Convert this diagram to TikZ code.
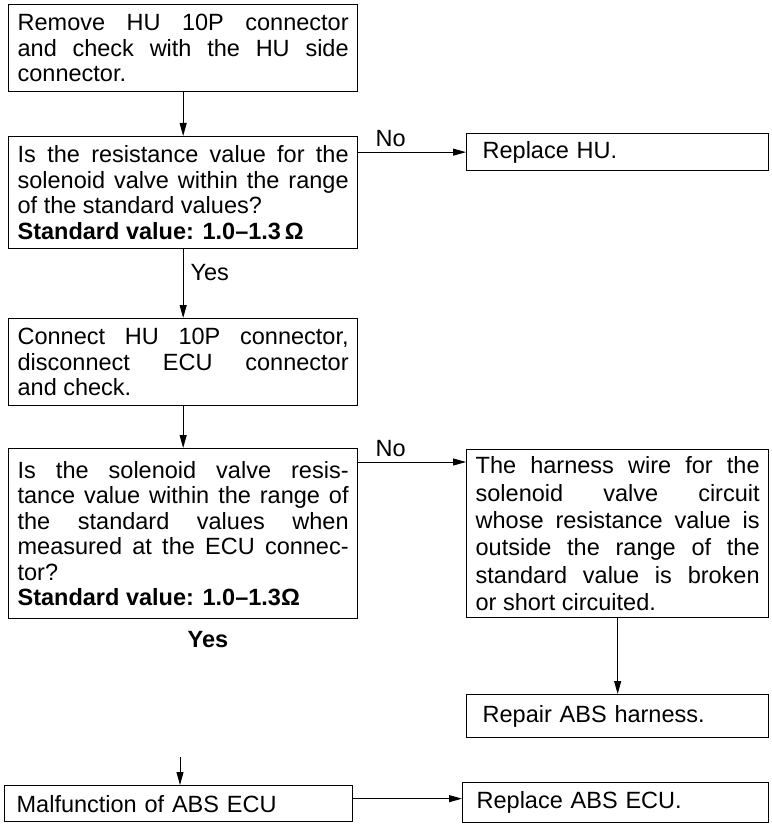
\documentclass[tikz,border=0pt]{standalone}
\usepackage{fontspec}
\setmainfont{Liberation Sans}
\usetikzlibrary{arrows.meta}

\newcommand{\chartfont}{\fontsize{23.5}{25.5}\selectfont}

\tikzset{
    box/.style={draw, line width=1.3pt, anchor=north west, inner xsep=9pt,
                inner ysep=0pt, align=justify, font=\chartfont},
    onebox/.style={box, align=left},
    arr/.style={line width=0.9pt, -{Triangle[length=13pt,width=7pt]}},
    lbl/.style={font=\chartfont, inner sep=2pt}
}

\begin{document}
\begin{tikzpicture}[x=1pt, y=-1pt]

    \useasboundingbox (0,0) rectangle (771,826);

    \node[box, text width=331, minimum height=87] (remove) at (8,4)
        {Remove HU 10P connector\linebreak and check with the HU side\linebreak connector.};

    \node[box, text width=331, minimum height=112] (q1) at (8,136)
        {Is the resistance value for the\linebreak solenoid valve within the range\linebreak
         of the standard values?\\ \textbf{Standard value: 1.0–1.3\,Ω}};

    \node[onebox, inner xsep=16pt, text width=270, minimum height=37] (hu) at (466,133)
        {Replace HU.};

    \node[box, text width=331, minimum height=87] (connect) at (8,318)
        {Connect HU 10P connector,\linebreak disconnect ECU connector\linebreak and check.};

    \node[box, text width=331, minimum height=170] (q2) at (8,448)
        {Is the solenoid valve resis-\linebreak tance value within the range of\linebreak
         the standard values when\linebreak measured at the ECU connec-\linebreak
         tor?\\ \textbf{Standard value: 1.0–1.3Ω}};

    \node[box, text width=284, minimum height=168, font=\fontsize{23.5}{27.3}\selectfont] (harness) at (466,449)
        {The harness wire for the\linebreak solenoid valve circuit\linebreak
         whose resistance value is\linebreak outside the range of the\linebreak
         standard value is broken\linebreak or short circuited.};

    \node[onebox, inner xsep=16pt, text width=270, minimum height=43] (repair) at (466,694)
        {Repair ABS harness.};

    \node[onebox, inner xsep=12pt, text width=324, minimum height=36] (mal) at (4,785)
        {Malfunction of ABS ECU};

    \node[onebox, inner xsep=14pt, text width=278, minimum height=40] (ecu) at (462,782)
        {Replace ABS ECU.};

    \node[lbl, font=\chartfont\bfseries] (yes2) at (208,640) {Yes};
    \coordinate (yesend) at (180,757);
    \coordinate (no2) at ([yshift=-14pt]q2.north east);
    \coordinate (malout) at ([yshift=5pt]mal.east);

    \draw[arr] (remove.south) -- (q1.north);
    \draw[arr] (q1.east |- hu.west) -- node[lbl, pos=0.3, above=3pt] {No} (hu.west);
    \draw[arr] (q1.south) -- node[lbl, pos=0.34, right=5pt] {Yes} (connect.north);
    \draw[arr] (connect.south) -- (q2.north);
    \draw[arr] (no2) -- node[lbl, pos=0.3, above=3pt] {No} (no2 -| harness.west);
    \draw[arr] (harness.south) -- (repair.north);
    \draw[arr] (yesend) -- (yesend |- mal.north);
    \draw[arr] (malout) -- (malout -| ecu.west);

\end{tikzpicture}
\end{document}
